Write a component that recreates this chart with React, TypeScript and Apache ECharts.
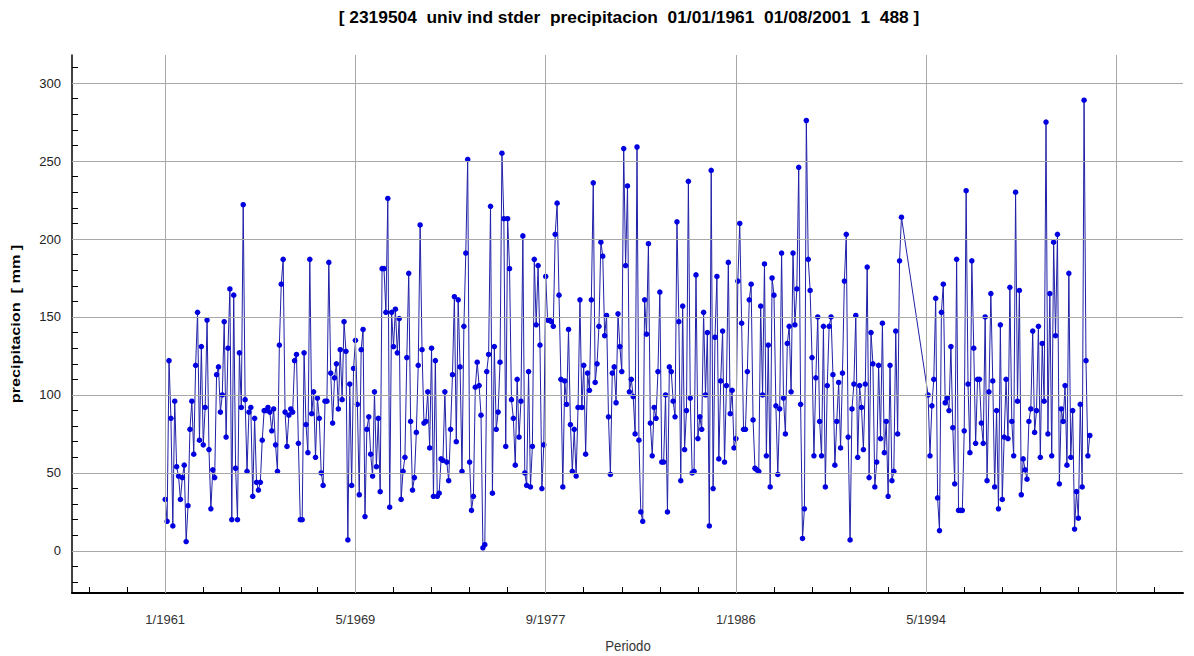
import React, { useEffect, useRef } from 'react';
import * as echarts from 'echarts';

// Monthly precipitation (mm), month 0 = 1/1961
const precipA = [
  33, 19, 122, 85, 16, 96, 54, 48, 33, 47, 55, 6, 29, 78, 96, 62, 119, 153, 71, 131, 68, 92, 148, 65, 27, 52, 47, 113, 118, 89, 100, 147, 73, 130, 168, 20, 164, 53, 20, 127, 92, 222,
  97, 51, 89, 92, 35, 85, 44, 39, 44, 71, 90, 90, 92, 89, 77, 91, 68, 51, 132, 171, 187, 89, 67, 87, 91, 89, 122, 126, 69, 20, 20, 127, 81, 63, 187, 88, 102, 60, 98, 85, 50, 42, 96, 96, 185,
  114, 82, 111, 120, 91, 129, 97, 147, 128, 7, 107, 42, 117, 135, 94, 36, 129, 142, 22, 78, 86, 62, 48, 102, 54, 85, 38, 181, 181, 153, 226, 28, 153, 131, 155, 127, 149, 33, 51, 60, 124, 178, 83, 39, 47,
];
const precipB = [
  76, 119, 209, 129, 82, 83, 102, 66, 130, 35, 122, 35, 37, 59, 58, 102, 57, 45, 78, 113, 163, 70, 161, 118, 51, 144, 191, 251, 57, 26, 35, 105, 121, 106, 87, 2, 4, 115, 126, 221, 37, 131, 78, 89, 121,
  255, 213, 67, 213, 181, 97, 85, 55, 110, 73, 96, 202, 50, 42, 115, 41, 67, 187, 145, 183, 132, 40, 68, 176, 148, 148, 147, 144, 203, 223, 164, 110, 41, 109, 94, 142, 81, 51, 78, 48, 92, 161, 92, 119, 62, 114,
  103, 161, 236, 108, 120, 144, 198, 189, 138, 151, 86, 49, 114, 118, 95, 152, 131, 115, 258, 183, 234, 102, 110, 99, 75, 259, 71, 25, 19, 161, 139, 197, 82, 61, 92, 85, 115, 166, 57, 57, 100, 25, 118, 115, 96,
];
const precipC = [
  86, 211, 147, 45, 157, 65, 90, 237, 98, 50, 51, 177, 72, 86, 78, 153, 100, 140, 16, 244, 40, 137, 176, 59, 109, 141, 57, 106, 185, 88, 103, 66, 72, 173, 210, 146, 78, 78, 115, 161, 171, 84, 53, 52,
  51, 157, 100, 184, 61, 132, 41, 175, 164, 93, 49, 91, 191, 98, 75, 133, 144, 102, 191, 145, 168, 246, 94, 8, 27, 276, 187, 167, 124, 61, 111, 150, 83, 61, 144, 41, 106, 144, 150, 113, 55, 83, 108, 66, 114, 173, 203,
  73, 7, 91, 107, 151, 60, 106, 92, 65, 107, 182, 47, 140, 120, 41, 57, 119, 72, 146, 63, 83, 35, 119, 45, 51, 141, 75, 186, 214,
];
const missingMonths = 13;
const precipD = [
  100, 61,
  93, 110, 162, 34, 13, 153, 171, 95, 98, 90, 131, 79, 43, 187, 26, 26, 26, 77, 231, 107, 63, 186, 130, 69, 110, 110, 82, 69, 150, 45, 102, 165, 109, 41, 90, 27, 145, 33, 73, 110, 72, 169, 83, 61, 230,
  96, 167, 36, 59, 52, 46, 83, 91, 141, 76, 90, 144, 60, 133, 96, 275, 75, 165, 61, 198, 138, 203, 43, 91, 83, 106, 55, 178, 60, 90, 14, 38, 21, 94, 41, 289, 122, 61, 74,
];

const xLabelMonths = [0, 100, 200, 300, 400];
const xLabels = ['1/1961', '5/1969', '9/1977', '1/1986', '5/1994'];
const xGridMonths = [0, 100, 200, 300, 400, 500];
const yLabelValues = [0, 50, 100, 150, 200, 250, 300];

const titleText = '[ 2319504  univ ind stder  precipitacion  01/01/1961  01/08/2001  1  488 ]';
const yName = 'precipitacion  [ mm ]';
const xName = 'Periodo';

const allValues: (number | null)[] = [
  ...precipA,
  ...precipB,
  ...precipC,
  ...new Array(missingMonths).fill(null),
  ...precipD,
];
const seriesData = allValues
  .map((v, i) => [i, v])
  .filter((d) => d[1] !== null);

const X_MIN = -49;
const X_MAX = 535;
const Y_MIN = -27;
const Y_MAX = 318;

const xTicks: number[] = [];
for (let m = -40; m <= X_MAX; m += 20) xTicks.push(m);
const yTicks: number[] = [];
for (let v = -20; v <= Y_MAX; v += 10) yTicks.push(v);

const FONT = 'Liberation Sans';

export default function App() {
  const ref = useRef<HTMLDivElement>(null);
  useEffect(() => {
    document.body.style.margin = '0';
    const chart = echarts.init(ref.current!, undefined, { renderer: 'svg' });
    chart.setOption({
      animation: false,
      backgroundColor: '#ffffff',
      graphic: [
        {
          type: 'text',
          x: 629,
          y: 18,
          scaleX: 1.24,
          scaleY: 1.15,
          style: {
            text: titleText,
            fontFamily: FONT,
            fontSize: 14,
            fontWeight: 'bold',
            fill: '#000',
            textAlign: 'center',
            textVerticalAlign: 'middle',
          },
        },
        {
          type: 'text',
          x: 16,
          y: 324,
          rotation: Math.PI / 2,
          scaleX: 1.35,
          style: {
            text: yName,
            fontFamily: FONT,
            fontSize: 12,
            fontWeight: 'bold',
            fill: '#000',
            textAlign: 'center',
            textVerticalAlign: 'middle',
          },
        },
        {
          type: 'text',
          x: 628,
          y: 646,
          scaleX: 1.1,
          scaleY: 1.25,
          style: {
            text: xName,
            fontFamily: FONT,
            fontSize: 12,
            fill: '#333',
            textAlign: 'center',
            textVerticalAlign: 'middle',
          },
        },
      ],
      grid: { left: 72, right: 11, top: 55, bottom: 63, containLabel: false },
      xAxis: {
        type: 'value',
        min: X_MIN,
        max: X_MAX,
        axisLine: { show: true, onZero: false, lineStyle: { color: '#000', width: 2 } },
        axisTick: { show: true, inside: true, length: 6, customValues: xTicks, lineStyle: { color: '#000', width: 1 } },
        axisLabel: {
          customValues: xLabelMonths,
          margin: 20,
          fontFamily: FONT,
          fontSize: 13,
          color: '#333',
          formatter: (v: number) => {
            const i = xLabelMonths.indexOf(Math.round(v));
            return i >= 0 ? xLabels[i] : '';
          },
        },
        splitLine: { show: false },
      },
      yAxis: {
        type: 'value',
        min: Y_MIN,
        max: Y_MAX,
        axisLine: { show: true, onZero: false, lineStyle: { color: '#000', width: 1.5 } },
        axisTick: { show: true, inside: true, length: 6, customValues: yTicks, lineStyle: { color: '#000', width: 1 } },
        axisLabel: { customValues: yLabelValues, margin: 11, fontFamily: FONT, fontSize: 13, color: '#222' },
        splitLine: { show: false },
      },
      series: [
        {
          type: 'line',
          z: 1,
          silent: true,
          data: [[0, 0]],
          showSymbol: false,
          lineStyle: { opacity: 0 },
          markLine: {
            silent: true,
            symbol: ['none', 'none'],
            label: { show: false },
            lineStyle: { color: '#a8a8a8', width: 1, type: 'solid' },
            data: [
              ...xGridMonths.map((v) => ({ xAxis: v })),
              ...yLabelValues.map((v) => ({ yAxis: v })),
            ],
          },
        },
        {
          type: 'line',
          z: 3,
          data: seriesData,
          symbol: 'circle',
          symbolSize: 5.5,
          showAllSymbol: true,
          connectNulls: true,
          lineStyle: { color: '#2020a8', width: 1 },
          itemStyle: { color: '#0000e0' },
        },
      ],
    });
    return () => chart.dispose();
  }, []);
  return <div ref={ref} style={{ width: 1194, height: 656 }} />;
}
